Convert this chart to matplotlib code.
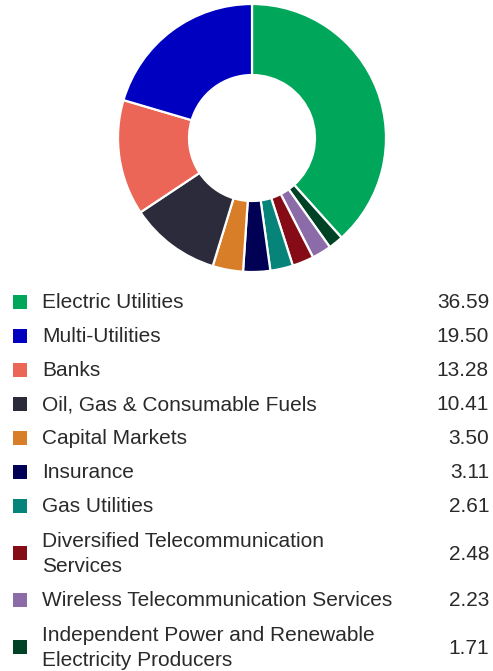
import matplotlib.pyplot as plt

# ------------------------------------------------------------
# data
# ------------------------------------------------------------
sectors = [
    "Electric Utilities",
    "Multi-Utilities",
    "Banks",
    "Oil, Gas & Consumable Fuels",
    "Capital Markets",
    "Insurance",
    "Gas Utilities",
    "Diversified Telecommunication\nServices",
    "Wireless Telecommunication Services",
    "Independent Power and Renewable\nElectricity Producers",
]
weights = [36.59, 19.50, 13.28, 10.41, 3.50, 3.11, 2.61, 2.48, 2.23, 1.71]
colors = [
    "#00A65A", "#0000C0", "#EC6657", "#2B2B3B", "#D97E28",
    "#000055", "#07847A", "#850C16", "#8B6BA8", "#004225",
]

# clockwise from 12 o'clock: first sector, then the rest in reverse
order = [0] + list(range(len(weights) - 1, 0, -1))

W, H = 493, 671
plt.rcParams["font.family"] = ["Liberation Sans", "DejaVu Sans"]
fig = plt.figure(figsize=(W / 100, H / 100), dpi=100)

# ------------------------------------------------------------
# donut
# ------------------------------------------------------------
cx, cy, r = 252, 138, 134
ax = fig.add_axes([(cx - r) / W, 1 - (cy + r) / H, 2 * r / W, 2 * r / H])
ax.pie(
    [weights[i] for i in order],
    colors=[colors[i] for i in order],
    startangle=90, counterclock=False, radius=1.0,
    wedgeprops=dict(width=0.53, edgecolor="white", linewidth=1.6),
)
ax.set_xlim(-1, 1)
ax.set_ylim(-1, 1)
ax.set_aspect("equal")
ax.axis("off")

# ------------------------------------------------------------
# legend table
# ------------------------------------------------------------
lx = fig.add_axes([0, 0, 1, 1])
lx.set_xlim(0, W)
lx.set_ylim(H, 0)
lx.axis("off")

row_y = [302, 336, 370, 404, 438, 472, 506, 553, 600, 647]
txt = "#2a2a2a"
for name, val, c, y in zip(sectors, weights, colors, row_y):
    lx.scatter(20, y, marker="s", s=100, color=c, linewidths=0)
    lx.text(42, y + 1, name, fontsize=15, color=txt, va="center", ha="left",
            linespacing=1.35)
    lx.text(489, y + 1, f"{val:.2f}", fontsize=15, color=txt, va="center",
            ha="right")

fig.savefig("out.png", dpi=100)
